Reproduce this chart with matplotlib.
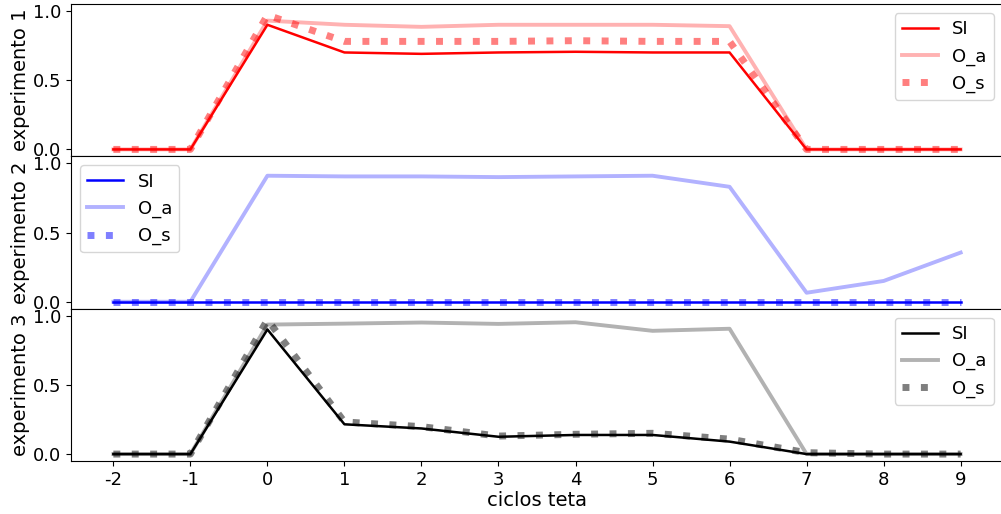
import numpy as np
import matplotlib
matplotlib.use("Agg")
import matplotlib.pyplot as plt

ciclos = [-2, -1, 0, 1, 2, 3, 4, 5, 6, 7, 8, 9]

# experimento 1
si_1 = [0, 0, 0.90, 0.70, 0.69, 0.70, 0.705, 0.70, 0.70, 0, 0, 0]
oa_1 = [0, 0, 0.93, 0.90, 0.885, 0.90, 0.90, 0.90, 0.89, 0, 0, 0]
os_1 = [0, 0, 0.97, 0.78, 0.78, 0.78, 0.785, 0.78, 0.78, 0, 0, 0]

# experimento 2
si_2 = [0, 0, 0, 0, 0, 0, 0, 0, 0, 0, 0, 0]
oa_2 = [0, 0, 0.91, 0.905, 0.905, 0.90, 0.905, 0.91, 0.83, 0.065, 0.15, 0.355]
os_2 = [0, 0, 0, 0, 0, 0, 0, 0, 0, 0, 0, 0]

# experimento 3
si_3 = [0, 0, 0.90, 0.215, 0.185, 0.125, 0.138, 0.138, 0.09, 0, 0, 0]
oa_3 = [0, 0, 0.935, 0.942, 0.95, 0.94, 0.952, 0.89, 0.905, 0, 0, 0]
os_3 = [0, 0, 0.97, 0.232, 0.198, 0.13, 0.143, 0.15, 0.108, 0.01, 0, 0]

experimentos = [
    ("experimento 1", "red", si_1, oa_1, os_1, "upper right"),
    ("experimento 2", "blue", si_2, oa_2, os_2, "upper left"),
    ("experimento 3", "black", si_3, oa_3, os_3, "upper right"),
]

plt.rcParams['font.size'] = 13
plt.rcParams['axes.labelsize'] = 14
plt.rcParams['legend.fontsize'] = 13

fig = plt.figure(figsize=(10.01, 5.14), dpi=100)
left = 71 / 1001
width = (1003 - 71) / 1001
bottom = 53 / 514
alto = 457 / 514 / 3

axes = []
for i in range(3):
    y0 = bottom + (2 - i) * alto
    if i == 0:
        ax = fig.add_axes([left, y0, width, alto])
    else:
        ax = fig.add_axes([left, y0, width, alto], sharex=axes[0])
    axes.append(ax)

for ax, (nome, cor, si, oa, os_, loc) in zip(axes, experimentos):
    ax.plot(ciclos, si, color=cor, lw=1.8, label='SI')
    ax.plot(ciclos, oa, color=cor, alpha=0.3, lw=2.8, label='O_a')
    ax.plot(ciclos, os_, color=cor, alpha=0.5, lw=5, linestyle=':', label='O_s')
    ax.set_ylim(-0.05, 1.05)
    ax.set_yticks([0.0, 0.5, 1.0])
    ax.set_ylabel(nome, labelpad=2)
    ax.legend(loc=loc)
    ax.spines['right'].set_visible(False)

for ax in axes[:2]:
    plt.setp(ax.get_xticklabels(), visible=False)

axes[2].set_xticks(ciclos)
axes[2].set_xticklabels([str(c) for c in ciclos])
axes[2].set_xlim(-2.55, 9.55)
axes[2].set_xlabel('ciclos teta', labelpad=2)

plt.savefig('out.png', dpi=100)
plt.close()
